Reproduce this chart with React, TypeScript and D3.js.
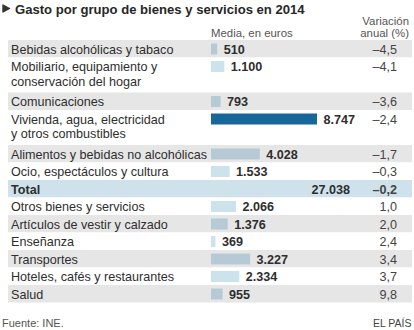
import React from "react";
import * as d3 from "d3";

const titleText = "Gasto por grupo de bienes y servicios en 2014";
const headerMedia = "Media, en euros";
const headerVar = ["Variación", "anual (%)"];
const sourceText = "Fuente: INE.";
const brandText = "EL PAÍS";

const categories: string[][] = [
  ["Bebidas alcohólicas y tabaco"],
  ["Mobiliario, equipamiento y", "conservación del hogar"],
  ["Comunicaciones"],
  ["Vivienda, agua, electricidad", "y otros combustibles"],
  ["Alimentos y bebidas no alcohólicas"],
  ["Ocio, espectáculos y cultura"],
  ["Total"],
  ["Otros bienes y servicios"],
  ["Artículos de vestir y calzado"],
  ["Enseñanza"],
  ["Transportes"],
  ["Hoteles, cafés y restaurantes"],
  ["Salud"],
];
const values = [510, 1100, 793, 8747, 4028, 1533, 27038, 2066, 1376, 369, 3227, 2334, 955];
const variations = [-4.5, -4.1, -3.6, -2.4, -1.7, -0.3, -0.2, 1.0, 2.0, 2.4, 3.4, 3.7, 9.8];
const totalIndex = 6;

const locale = d3.formatLocale({
  decimal: ",",
  thousands: ".",
  grouping: [3],
  currency: ["", " €"],
  minus: "–",
});
const fmtValue = locale.format(",d");
const fmtVar = locale.format(".1f");

const FONT = "'Liberation Sans', Arial, Helvetica, sans-serif";

export default function App() {
  const W = 414;
  const H = 330;
  const rowH = 17.5;
  const lineH = 14.5;
  const top0 = 40;
  const left = 8;
  const right = 412;
  const barX = 211;

  const heights = categories.map((c) => (c.length > 1 ? rowH * 2 : rowH));
  const tops: number[] = [];
  let acc = top0;
  heights.forEach((h) => {
    tops.push(acc);
    acc += h;
  });

  const maxBar = d3.max(values.filter((_, i) => i !== totalIndex)) as number;
  const x = d3.scaleLinear().domain([0, maxBar]).range([0, 106]);

  return (
    <svg
      width={W}
      height={H}
      style={{ position: "absolute", left: 0, top: 0, background: "#fff" }}
      fontFamily={FONT}
    >
      <rect x={0} y={0} width={W} height={H} fill="#fff" />
      {/* title */}
      <path d="M3,5 L9.5,8.5 L3,12 Z" fill="#333" stroke="#333" strokeWidth={1.4} strokeLinejoin="round" />
      <text x={15} y={14} fontSize={13.1} fontWeight="bold" fill="#262626">
        {titleText}
      </text>
      {/* headers */}
      <text x={211} y={37} fontSize={11.4} fill="#555">
        {headerMedia}
      </text>
      <text x={409} y={25} fontSize={11.4} fill="#555" textAnchor="end">
        {headerVar[0]}
      </text>
      <text x={409} y={37} fontSize={11.4} fill="#555" textAnchor="end">
        {headerVar[1]}
      </text>
      {/* rows */}
      {categories.map((lines, i) => {
        const t = tops[i];
        const isTotal = i === totalIndex;
        const grey = i % 2 === 0;
        const bg = isTotal ? "#cfe2ec" : grey ? "#e6e6e6" : "#ffffff";
        const isMax = values[i] === maxBar;
        const barFill = isMax ? "#17679a" : grey ? "#b6cad5" : "#cce2ec";
        const base = t + 13.5;
        return (
          <g key={i}>
            <rect x={left} y={t} width={right - left} height={heights[i]} fill={bg} />
            {lines.map((ln, j) => (
              <text
                key={j}
                x={11}
                y={base + j * lineH}
                fontSize={12.6}
                fill="#2e2e2e"
                fontWeight={isTotal ? "bold" : "normal"}
              >
                {ln}
              </text>
            ))}
            {!isTotal && (
              <rect x={barX} y={t + 3.5} width={x(values[i])} height={11} fill={barFill} />
            )}
            <text
              x={isTotal ? 350 : barX + x(values[i]) + 6.5}
              y={base}
              fontSize={12.6}
              fontWeight="bold"
              fill="#2e2e2e"
              textAnchor={isTotal ? "end" : "start"}
            >
              {fmtValue(values[i])}
            </text>
            <text
              x={397}
              y={base}
              fontSize={12.6}
              fill="#444"
              fontWeight={isTotal ? "bold" : "normal"}
              textAnchor="end"
            >
              {fmtVar(variations[i])}
            </text>
          </g>
        );
      })}
      {/* footer */}
      <text x={2} y={326.5} fontSize={11} fill="#555">
        {sourceText}
      </text>
      <text x={411.5} y={326.5} fontSize={10.5} fill="#444" textAnchor="end">
        {brandText}
      </text>
    </svg>
  );
}
